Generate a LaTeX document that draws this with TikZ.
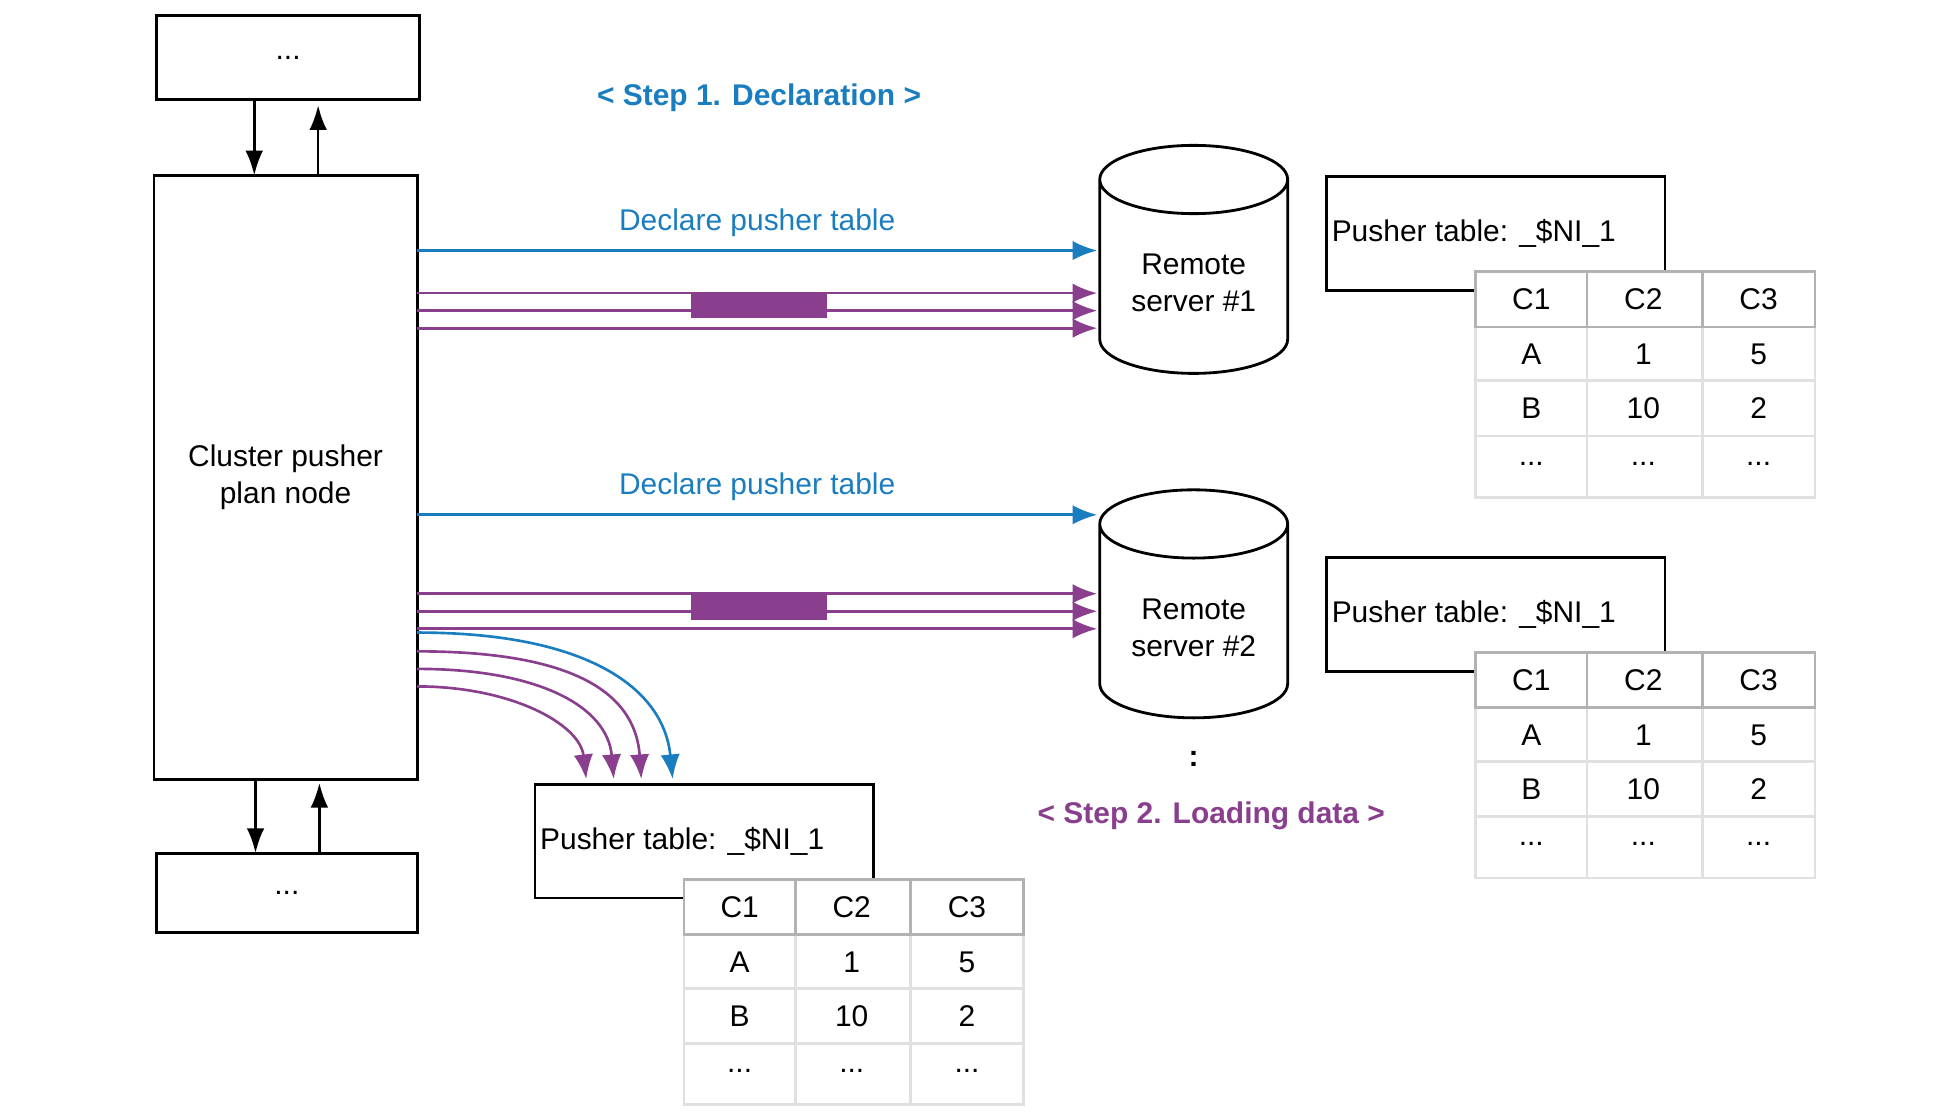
\documentclass[tikz,border=0pt]{standalone}
\usepackage{fontspec}
\setmainfont{Liberation Sans}
\usetikzlibrary{calc,shapes.geometric,arrows.meta}
\definecolor{declblue}{HTML}{1A7DC0}
\definecolor{loadpurple}{HTML}{8A3F8E}
\tikzset{
  box/.style={draw,line width=1.6pt,inner sep=0pt},
  txt/.style={font=\fontsize{17}{21}\selectfont,align=center},
  decl/.style={declblue,line width=1.5pt,-{Latex[length=14pt,width=11pt]}},
  load/.style={loadpurple,line width=1.5pt,-{Latex[length=14pt,width=11pt]}},
  plain/.style={black,line width=1.5pt,-{Latex[length=14pt,width=10pt]}},
  db/.style={draw,line width=1.6pt,cylinder,shape border rotate=90,aspect=0.5,
    minimum width=3.75cm,minimum height=4.55cm,fill=white,txt}
}
\newcommand{\dd}{...}
% pusher table: box plus a 3x4 grid
\newcommand{\pushtab}[3]{% #1 x of box, #2 y of box, #3 name
  \node[box,minimum width=6.75cm,minimum height=2.27cm,anchor=north west] (#3) at (#1,#2) {};
  \node[txt,anchor=west] (#3t) at ($(#3.west)+(0.25,0)$) {Pusher table: \_\$NI\_1};
  \begin{scope}[shift={(#1+120,#2+77)}]
    \fill[white] (0,0) rectangle (271,180);
    \foreach \r/\a/\b/\c [count=\k from 0] in {0/C1/C2/C3,44/A/1/5,87/B/10/2,131/\dd/\dd/\dd} {
      \node[txt] (#3a\k) at (44.5,\r+22) {\a};
      \node[txt] (#3b\k) at (134,\r+22) {\b};
      \node[txt] (#3c\k) at (226,\r+22) {\c};}
    \draw[black!12,line width=1.5pt] (0,44) rectangle (271,180)
      (0,87) -- (271,87) (0,131) -- (271,131) (89,44) -- (89,180) (181,44) -- (181,180);
    \draw[black!30,line width=1.5pt] (0,0) rectangle (271,44) (89,0) -- (89,44) (181,0) -- (181,44);
  \end{scope}}

\begin{document}
\begin{tikzpicture}[x=0.025cm,y=-0.025cm]
\useasboundingbox (0,0) rectangle (1560,890);

\node[box,minimum width=5.25cm,minimum height=1.68cm,txt] (top) at (230,46) {...};
\node[box,minimum width=5.25cm,minimum height=12.05cm,txt] (cluster) at (228,381) {Cluster pusher\\plan node};
\node[box,minimum width=5.2cm,minimum height=1.58cm,txt] (bottom) at (229,713) {...};

\draw[plain] (203,80) -- (203,140);
\draw[plain] (254,140) -- (254,84);
\draw[plain] (204,622) -- (204,681);
\draw[plain] (255,682) -- (255,625);

\node[txt,font=\fontsize{17}{21}\selectfont\bfseries,declblue] (step1) at (606,78) {< Step 1. Declaration >};
\node[txt,font=\fontsize{17}{21}\selectfont\bfseries,loadpurple] (step2) at (967,651) {< Step 2. Loading data >};

\node[db] (srv1) at (953,226) {Remote\\server \#1};
\node[db] (srv2) at (953,501) {Remote\\server \#2};
\node[txt,font=\fontsize{17}{21}\selectfont\bfseries] (more) at (953,606) {:};

% declare and load, server 1
\draw[decl] (333,200) -- node[txt,above=4pt] (decl1) {Declare pusher table} (876,200);
\foreach \y in {234,248,262}
  \draw[load] (333,\y) -- (876,\y);
\node[txt,fill=white,loadpurple,inner sep=1pt] (load1) at (606,244) {Load data};
% declare and load, server 2
\draw[decl] (333,411) -- node[txt,above=4pt] (decl2) {Declare pusher table} (876,411);
\foreach \y in {474,488,502}
  \draw[load] (333,\y) -- (876,\y);
\node[txt,fill=white,loadpurple,inner sep=1pt] (load2) at (606,485) {Load data};

% local pusher table
\draw[decl] (333,505) .. controls (470,505) and (530,550) .. (537,622);
\foreach \y/\x in {520/512,534/490,548/468}
  \draw[load] (333,\y) .. controls (\x-60,\y) and (\x-5,\y+30) .. (\x,622);

\pushtab{426}{625}{tabl}
\pushtab{1058}{140}{tabr}
\pushtab{1058}{444}{tabs}
\end{tikzpicture}
\end{document}
